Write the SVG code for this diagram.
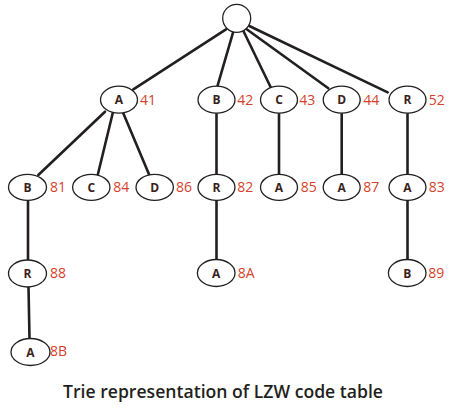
<svg xmlns="http://www.w3.org/2000/svg" width="449" height="408" viewBox="0 0 449 408">
<style>
.e{stroke:#231f20;stroke-width:2.6;fill:none;stroke-linecap:round}
.n{fill:#fff;stroke:#231f20;stroke-width:1.3}
.t{font-family:"Open Sans","Liberation Sans",sans-serif;font-weight:700;font-size:12px;fill:#3a1f1b;text-anchor:middle}
.c{font-family:"Open Sans","Liberation Sans",sans-serif;font-size:14px;fill:#d63f2c}
.cap{font-family:"Open Sans","Liberation Sans",sans-serif;font-weight:600;font-size:18px;fill:#231f20}
</style>
<rect width="449" height="408" fill="#fff"/>
<g id="connectors">
<line class="e" x1="226" y1="29.3" x2="133.3" y2="89.3"/>
<line class="e" x1="233.3" y1="31.7" x2="217.3" y2="86.7"/>
<line class="e" x1="243.3" y1="30.7" x2="270.7" y2="87.3"/>
<line class="e" x1="246.7" y1="29.3" x2="328.3" y2="88.3"/>
<line class="e" x1="249.3" y1="26" x2="387.7" y2="92.3"/>
<line class="e" x1="105" y1="111.7" x2="38.3" y2="175"/>
<line class="e" x1="112.7" y1="113.3" x2="97.3" y2="176.7"/>
<line class="e" x1="123.3" y1="113.3" x2="149.3" y2="175"/>
<line class="e" x1="216.5" y1="113" x2="216.5" y2="174"/>
<line class="e" x1="279" y1="113" x2="279" y2="174"/>
<line class="e" x1="341.7" y1="113" x2="341.7" y2="174"/>
<line class="e" x1="407.5" y1="113" x2="407.5" y2="174"/>
<line class="e" x1="28" y1="200" x2="28" y2="260"/>
<line class="e" x1="216.5" y1="200" x2="216.5" y2="259.5"/>
<line class="e" x1="407.5" y1="200" x2="407.5" y2="259.5"/>
<line class="e" x1="28.5" y1="287" x2="29.5" y2="338.5"/>
</g>
<g id="root"><circle class="n" cx="236.7" cy="18.3" r="14"/></g>
<g id="n41"><ellipse class="n" cx="119" cy="99.7" rx="18.5" ry="13.5"/><text class="t" x="119" y="104">A</text><text class="c" x="140" y="104.5">41</text></g>
<g id="n42"><ellipse class="n" cx="216.5" cy="99.7" rx="18.5" ry="13.5"/><text class="t" x="216.5" y="104">B</text><text class="c" x="237.3" y="104.5">42</text></g>
<g id="n43"><ellipse class="n" cx="279" cy="99.7" rx="18.5" ry="13.5"/><text class="t" x="279" y="104">C</text><text class="c" x="299.3" y="104.5">43</text></g>
<g id="n44"><ellipse class="n" cx="341.7" cy="99.7" rx="18.5" ry="13.5"/><text class="t" x="341.7" y="104">D</text><text class="c" x="363.3" y="104.5">44</text></g>
<g id="n52"><ellipse class="n" cx="407.5" cy="99.7" rx="18.5" ry="13.5"/><text class="t" x="407.5" y="104">R</text><text class="c" x="428.7" y="104.5">52</text></g>
<g id="n81"><ellipse class="n" cx="27.5" cy="187.3" rx="19" ry="13"/><text class="t" x="27.5" y="191.5">B</text><text class="c" x="50" y="192">81</text></g>
<g id="n84"><ellipse class="n" cx="91.3" cy="187.3" rx="18.7" ry="13"/><text class="t" x="91.3" y="191.5">C</text><text class="c" x="113.3" y="192">84</text></g>
<g id="n86"><ellipse class="n" cx="154.7" cy="187.3" rx="18.7" ry="13"/><text class="t" x="154.7" y="191.5">D</text><text class="c" x="176" y="192">86</text></g>
<g id="n82"><ellipse class="n" cx="216.5" cy="187.3" rx="18.5" ry="13"/><text class="t" x="216.5" y="191.5">R</text><text class="c" x="237.3" y="192">82</text></g>
<g id="n85"><ellipse class="n" cx="279" cy="187.3" rx="18.5" ry="13"/><text class="t" x="279" y="191.5">A</text><text class="c" x="300.7" y="192">85</text></g>
<g id="n87"><ellipse class="n" cx="341.7" cy="187.3" rx="18.5" ry="13"/><text class="t" x="341.7" y="191.5">A</text><text class="c" x="363.3" y="192">87</text></g>
<g id="n83"><ellipse class="n" cx="407.5" cy="187.3" rx="18.5" ry="13"/><text class="t" x="407.5" y="191.5">A</text><text class="c" x="428.7" y="192">83</text></g>
<g id="n88"><ellipse class="n" cx="27.5" cy="273.5" rx="19" ry="13.5"/><text class="t" x="27.5" y="278">R</text><text class="c" x="50" y="277.5">88</text></g>
<g id="n8A"><ellipse class="n" cx="216.2" cy="273" rx="18.8" ry="13.5"/><text class="t" x="216.2" y="277.5">A</text><text class="c" x="237.7" y="277.5">8A</text></g>
<g id="n89"><ellipse class="n" cx="407.2" cy="273" rx="18.8" ry="13.5"/><text class="t" x="407.2" y="277.5">B</text><text class="c" x="428.3" y="277.5">89</text></g>
<g id="n8B"><ellipse class="n" cx="30.5" cy="352" rx="19.5" ry="13.5"/><text class="t" x="30.5" y="356.5">A</text><text class="c" x="50" y="356">8B</text></g>
<text class="cap" x="63" y="398" textLength="320" lengthAdjust="spacingAndGlyphs">Trie representation of LZW code table</text>
</svg>
